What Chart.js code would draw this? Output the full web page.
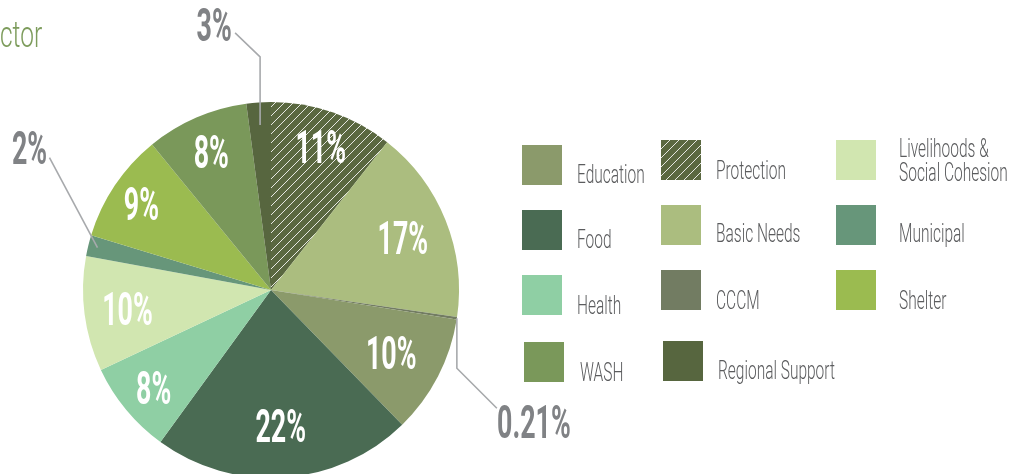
<!DOCTYPE html>
<html><head><meta charset="utf-8">
<script src="https://cdn.jsdelivr.net/npm/chart.js@4/dist/chart.umd.min.js"></script>
<style>
html,body{margin:0;padding:0;background:#fff;overflow:hidden;width:1023px;height:474px}
#wrap{position:absolute;left:0;top:0;width:1023px;height:480px}
</style>
</head><body>
<div id="wrap"><canvas id="c"></canvas></div>
<script>
// ---- data (clockwise from 12 o'clock) ----
const categories = ["Protection","Basic Needs","CCCM","Education","Food","Health","Livelihoods & Social Cohesion","Municipal","Shelter","WASH","Regional Support"];
const values = [10.6, 16.7, 0.21, 10.2, 22.3, 8.0, 9.9, 1.8, 9.4, 8.8, 2.1];
const valueLabels = ["11%","17%","0.21%","10%","22%","8%","10%","2%","9%","8%","3%"];
const colors = ["#5a6840","#abbd7f","#727c62","#8b9a6b","#4a6b53","#8fcfa4","#d1e6b0","#67967a","#9bbb50","#7a985a","#57663f"];
const titleText = "ctor";

// ---- hatch pattern for Protection ----
function hatch(base){
  const c=document.createElement('canvas'); c.width=9; c.height=9;
  const x=c.getContext('2d');
  x.fillStyle=base; x.fillRect(0,0,9,9);
  x.strokeStyle='rgba(255,255,255,0.85)'; x.lineWidth=1;
  x.beginPath();
  x.moveTo(-1,10); x.lineTo(10,-1);
  x.moveTo(-1,1); x.lineTo(1,-1);
  x.moveTo(8,10); x.lineTo(10,8);
  x.stroke();
  return x.createPattern(c,'repeat');
}
const fills = colors.map((c,i)=> i===0 ? hatch(c) : c);

function txt(ctx,s,x,y,font,color,sx,align){
  ctx.save(); ctx.font=font; ctx.fillStyle=color; ctx.textBaseline='alphabetic';
  ctx.textAlign=align||'left'; ctx.translate(x,y); ctx.scale(sx,1); ctx.fillText(s,0,0); ctx.restore();
}

const PCT_FONT = "700 47px Roboto";
const PCT_SX = 0.57;
const LEG_FONT = "300 25px Roboto";
const inFactor = {0:0.81,1:0.755,3:0.72,4:0.72,5:0.81,6:0.77,8:0.83,9:0.80};
const outside = {
  2:  {f:1.0,  path:[[0,50],[40,90]],   lbl:[77,103]},
  7:  {f:0.95, path:[[-48,-90]],        lbl:[-68,-100]},
  10: {f:0.88, path:[[0,-68],[-25,-92]],lbl:[-46,-100]}
};

const labelPlugin = {
  id:'labels',
  afterDatasetsDraw(chart){
    const ctx=chart.ctx;
    const meta=chart.getDatasetMeta(0);
    meta.data.forEach((arc,i)=>{
      const p=arc.getProps(['x','y','startAngle','endAngle','outerRadius'],true);
      const mid=(p.startAngle+p.endAngle)/2;
      if(inFactor[i]!==undefined){
        const r=p.outerRadius*inFactor[i];
        const lx=p.x+Math.cos(mid)*r, ly=p.y+Math.sin(mid)*r;
        txt(ctx,valueLabels[i],lx,ly+16.5,PCT_FONT,'#ffffff',PCT_SX,'center');
      } else if(outside[i]){
        const o=outside[i];
        const r=p.outerRadius*o.f;
        const ax=p.x+Math.cos(mid)*r, ay=p.y+Math.sin(mid)*r;
        ctx.save(); ctx.strokeStyle='#a7a9ac'; ctx.lineWidth=1.6;
        ctx.beginPath(); ctx.moveTo(ax,ay);
        o.path.forEach(q=>ctx.lineTo(ax+q[0],ay+q[1]));
        ctx.stroke(); ctx.restore();
        txt(ctx,valueLabels[i],ax+o.lbl[0],ay+o.lbl[1]+16.5,PCT_FONT,'#808285',PCT_SX,'center');
      }
    });
  },
  afterDraw(chart){
    const ctx=chart.ctx;
    // title fragment
    txt(ctx,titleText,0,47,"300 36px Roboto","#7d9c5c",0.68,'left');
    // legend
    const L=[
      {i:3, sx:522,sy:145, tx:577, ty:[183], lines:["Education"]},
      {i:0, sx:661,sy:140, tx:716, ty:[179], lines:["Protection"]},
      {i:6, sx:836,sy:140, tx:899, ty:[157,181], lines:["Livelihoods &","Social Cohesion"]},
      {i:4, sx:522,sy:210, tx:577, ty:[248], lines:["Food"]},
      {i:1, sx:661,sy:205, tx:716, ty:[242], lines:["Basic Needs"]},
      {i:7, sx:836,sy:205, tx:899, ty:[242], lines:["Municipal"]},
      {i:5, sx:522,sy:275, tx:577, ty:[314], lines:["Health"]},
      {i:2, sx:661,sy:270, tx:716, ty:[309], lines:["CCCM"]},
      {i:8, sx:836,sy:270, tx:899, ty:[309], lines:["Shelter"]},
      {i:9, sx:524,sy:342, tx:580, ty:[381], lines:["WASH"]},
      {i:10,sx:663,sy:341, tx:718, ty:[379], lines:["Regional Support"]}
    ];
    L.forEach(e=>{
      ctx.save(); ctx.fillStyle=fills[e.i]; ctx.fillRect(e.sx,e.sy,40,40); ctx.restore();
      e.lines.forEach((s,k)=>txt(ctx,s,e.tx,e.ty[k],LEG_FONT,'#5b5c5e',0.62,'left'));
    });
  }
};

new Chart(document.getElementById('c'),{
  type:'pie',
  data:{labels:categories,datasets:[{data:values,backgroundColor:fills,borderWidth:0,hoverOffset:0}]},
  options:{
    responsive:true, maintainAspectRatio:false, animation:false,
    layout:{padding:{left:83,right:564,top:102,bottom:2}},
    plugins:{legend:{display:false},tooltip:{enabled:false}}
  },
  plugins:[labelPlugin]
});
</script>
</body></html>
